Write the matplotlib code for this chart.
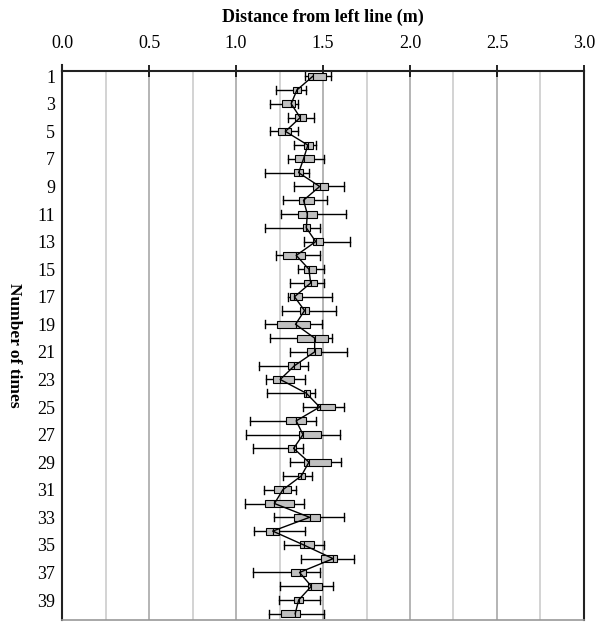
import numpy as np
import matplotlib.pyplot as plt
from matplotlib.patches import Rectangle

# Trial numbers and box-plot statistics (m)
trials = np.arange(1, 41)
w_lo = [1.396, 1.231, 1.196, 1.298, 1.198, 1.333, 1.298, 1.167, 1.334, 1.271,
        1.259, 1.167, 1.390, 1.227, 1.358, 1.311, 1.296, 1.263, 1.169, 1.196,
        1.313, 1.131, 1.173, 1.179, 1.385, 1.081, 1.059, 1.096, 1.309, 1.271,
        1.158, 1.052, 1.217, 1.106, 1.277, 1.371, 1.096, 1.250, 1.248, 1.192]
w_hi = [1.548, 1.400, 1.358, 1.450, 1.358, 1.461, 1.504, 1.419, 1.623, 1.525,
        1.635, 1.483, 1.656, 1.485, 1.504, 1.504, 1.554, 1.577, 1.494, 1.554,
        1.638, 1.415, 1.398, 1.452, 1.623, 1.461, 1.596, 1.385, 1.604, 1.436,
        1.344, 1.388, 1.623, 1.396, 1.504, 1.677, 1.481, 1.558, 1.483, 1.508]
q1 = [1.415, 1.327, 1.263, 1.340, 1.242, 1.388, 1.338, 1.333, 1.442, 1.361,
      1.358, 1.385, 1.442, 1.271, 1.388, 1.390, 1.310, 1.369, 1.236, 1.348,
      1.408, 1.300, 1.215, 1.388, 1.465, 1.286, 1.361, 1.300, 1.390, 1.356,
      1.217, 1.165, 1.331, 1.171, 1.369, 1.490, 1.315, 1.415, 1.333, 1.256]
q3 = [1.515, 1.375, 1.340, 1.404, 1.317, 1.442, 1.446, 1.385, 1.529, 1.446,
      1.463, 1.423, 1.500, 1.394, 1.458, 1.467, 1.381, 1.419, 1.423, 1.529,
      1.490, 1.367, 1.333, 1.423, 1.569, 1.400, 1.490, 1.346, 1.548, 1.394,
      1.317, 1.333, 1.481, 1.246, 1.448, 1.581, 1.400, 1.496, 1.386, 1.369]
med = [1.442, 1.350, 1.317, 1.369, 1.284, 1.413, 1.388, 1.360, 1.481, 1.388,
       1.410, 1.404, 1.458, 1.346, 1.419, 1.429, 1.336, 1.394, 1.342, 1.452,
       1.452, 1.336, 1.254, 1.404, 1.481, 1.346, 1.385, 1.331, 1.419, 1.375,
       1.269, 1.221, 1.423, 1.211, 1.388, 1.558, 1.365, 1.433, 1.360, 1.340]

x_ticks = [0.0, 0.5, 1.0, 1.5, 2.0, 2.5, 3.0]
y_labels = list(range(1, 40, 2))

plt.rcParams['font.family'] = ['Liberation Serif', 'DejaVu Serif']

fig = plt.figure(figsize=(5.97, 6.22), dpi=100)
ax = fig.add_axes([0.1039, 0.0032, 0.8743, 0.8827])

ax.set_xlim(0, 3)
ax.set_ylim(40.45, 0.62)

# grid lines
for v in np.arange(0.25, 3.0, 0.25):
    major = abs(v * 2 - round(v * 2)) < 1e-6
    ax.axvline(v, color='#a8a8a8' if major else '#cccccc', lw=1.2, zorder=0)

box_h = 0.5
cap_h = 0.6
for i, t in enumerate(trials):
    ax.plot([w_lo[i], w_hi[i]], [t, t], color='black', lw=1, zorder=2)
    ax.plot([w_lo[i], w_lo[i]], [t - cap_h / 2, t + cap_h / 2], color='black', lw=1, zorder=2)
    ax.plot([w_hi[i], w_hi[i]], [t - cap_h / 2, t + cap_h / 2], color='black', lw=1, zorder=2)
    ax.add_patch(Rectangle((q1[i], t - box_h / 2), med[i] - q1[i], box_h,
                           facecolor='#c0c0c0', edgecolor='black', lw=0.8, zorder=3))
    ax.add_patch(Rectangle((med[i], t - box_h / 2), q3[i] - med[i], box_h,
                           facecolor='#c0c0c0', edgecolor='black', lw=0.8, zorder=3))

ax.plot(med, trials, color='black', lw=1, zorder=4)

# axes styling
ax.xaxis.tick_top()
ax.xaxis.set_label_position('top')
ax.set_xticks(x_ticks)
ax.set_xticklabels([f'{v:.1f}' for v in x_ticks], fontsize=13)
ax.tick_params(axis='x', direction='inout', length=8, width=1.2, pad=10)
ax.set_xlabel('Distance from left line (m)', fontsize=13, fontweight='bold', labelpad=9)

ax.set_yticks(y_labels)
ax.set_yticklabels([str(v) for v in y_labels], fontsize=13)
ax.tick_params(axis='y', length=0, pad=5)
ax.set_ylabel('Number of times', fontsize=12.5, fontweight='bold', rotation=270)
ax.yaxis.set_label_coords(-0.108, 0.5)

for s in ['top', 'left', 'right']:
    ax.spines[s].set_color('#222222')
    ax.spines[s].set_linewidth(1.5)
ax.spines['bottom'].set_color('#999999')
ax.spines['bottom'].set_linewidth(1.2)

# left spine pokes slightly above the top axis line
ax.plot([0, 0], [1.0, 1.01], transform=ax.transAxes, color='#222222', lw=1.5, clip_on=False)

fig.savefig('out.png', dpi=100)
